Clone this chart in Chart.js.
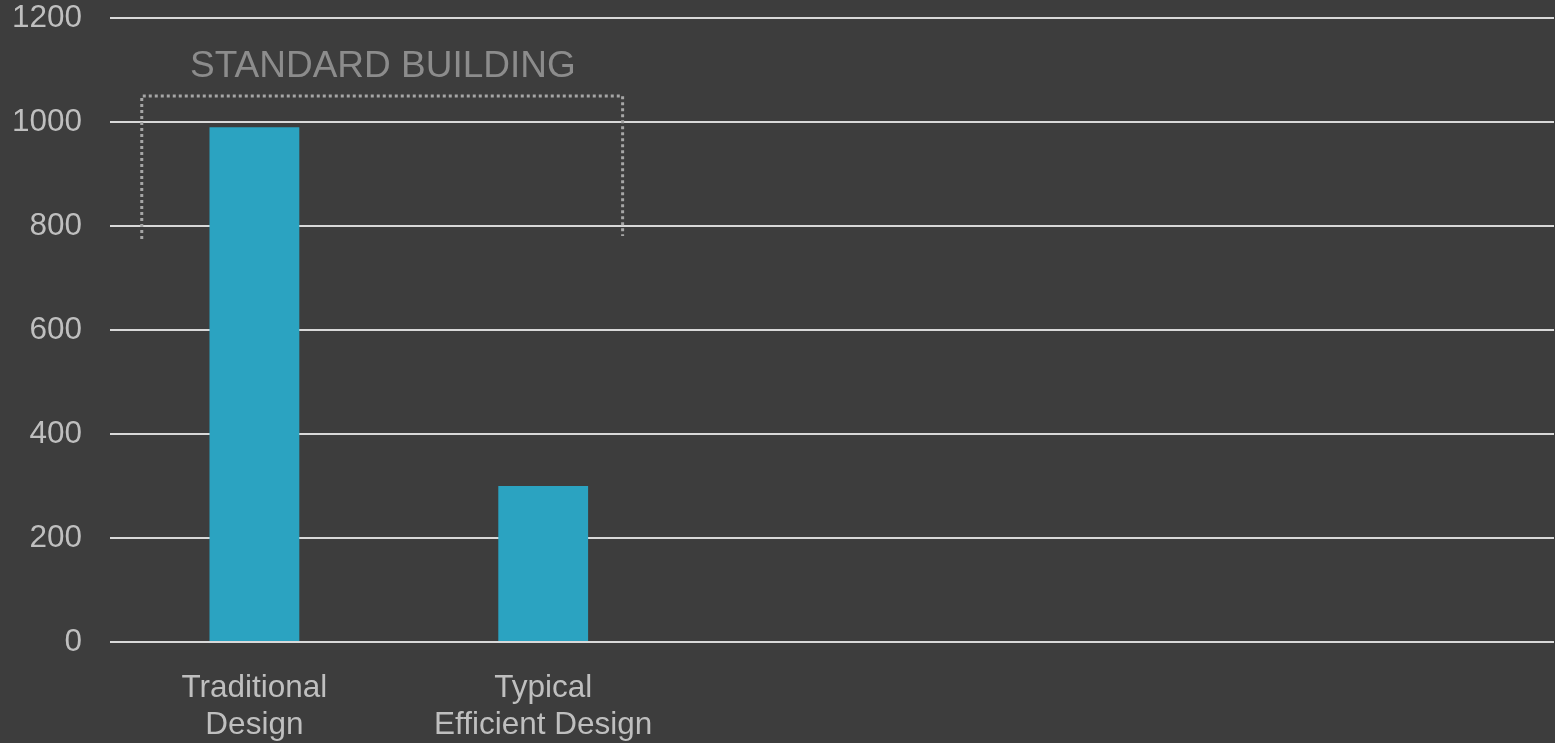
<!DOCTYPE html>
<html>
<head>
<meta charset="utf-8">
<script src="https://cdn.jsdelivr.net/npm/chart.js@4/dist/chart.umd.min.js"></script>
<style>
  html, body { margin: 0; padding: 0; background: #3d3d3d; }
  #wrap { width: 1555px; height: 743px; }
</style>
</head>
<body>
<div id="wrap"><canvas id="c" width="1555" height="743"></canvas></div>
<script>
// ---- Data ----
const categories = [["Traditional", "Design"], ["Typical", "Efficient Design"], "", "", ""];
const energyValues = [990, 300, null, null, null];
const yTicks = [0, 200, 400, 600, 800, 1000, 1200];
const groupLabel = "STANDARD BUILDING";

// Annotation placement in data units (category index / value)
const bracket = { left: -0.39, right: 1.275, top: 1050, bottomLeft: 775, bottomRight: 781, textX: 0.445, textY: 1087 };

const font = "'Liberation Sans', Arial, sans-serif";

const bracketPlugin = {
  id: 'bracket',
  afterDatasetsDraw(chart) {
    const x = chart.scales.x, y = chart.scales.y, ctx = chart.ctx;
    const step = x.getPixelForValue(1) - x.getPixelForValue(0);
    const px = v => x.getPixelForValue(0) + v * step;
    const l = px(bracket.left), r = px(bracket.right);
    const t = y.getPixelForValue(bracket.top);
    ctx.save();
    ctx.strokeStyle = '#a6a6a6';
    ctx.lineWidth = 3;
    ctx.setLineDash([3, 3]);
    ctx.beginPath();
    ctx.moveTo(l, y.getPixelForValue(bracket.bottomLeft));
    ctx.lineTo(l, t);
    ctx.lineTo(r, t);
    ctx.lineTo(r, y.getPixelForValue(bracket.bottomRight));
    ctx.stroke();
    ctx.setLineDash([]);
    ctx.fillStyle = '#8c8c8c';
    ctx.font = '37px ' + font;
    ctx.textAlign = 'center';
    ctx.textBaseline = 'alphabetic';
    ctx.fillText(groupLabel, px(bracket.textX), y.getPixelForValue(bracket.textY));
    ctx.restore();
  }
};

new Chart(document.getElementById('c'), {
  type: 'bar',
  data: {
    labels: categories,
    datasets: [{
      data: energyValues,
      backgroundColor: '#2ba3c1',
      borderWidth: 0,
      barPercentage: 0.311,
      categoryPercentage: 1.0
    }]
  },
  options: {
    responsive: false,
    animation: false,
    layout: { padding: { top: 0, right: 1, bottom: 0, left: 0 } },
    plugins: { legend: { display: false }, tooltip: { enabled: false } },
    scales: {
      x: {
        grid: { display: false, drawTicks: false },
        border: { display: false },
        ticks: {
          color: '#bfbfbf',
          font: { family: font, size: 31.5, lineHeight: 1.18 },
          padding: 28,
          maxRotation: 0,
          autoSkip: false
        },
        afterFit(axis) { axis.height = 101; axis.paddingLeft = 0; axis.paddingRight = 0; }
      },
      y: {
        min: 0, max: 1200,
        afterBuildTicks(axis) { axis.ticks = yTicks.map(v => ({ value: v })); },
        grid: { color: '#d9d9d9', lineWidth: 2, drawTicks: false },
        border: { display: false },
        ticks: {
          color: '#bfbfbf',
          font: { family: font, size: 31.5 },
          padding: 28,
          callback: v => String(v)
        },
        afterFit(axis) { axis.width = 110; axis.paddingTop = 18; axis.paddingBottom = 0; }
      }
    }
  },
  plugins: [bracketPlugin, {
    id: 'bg',
    beforeDraw(chart) {
      const ctx = chart.ctx;
      ctx.save();
      ctx.fillStyle = '#3d3d3d';
      ctx.fillRect(0, 0, chart.width, chart.height);
      ctx.restore();
    }
  }]
});
</script>
</body>
</html>
